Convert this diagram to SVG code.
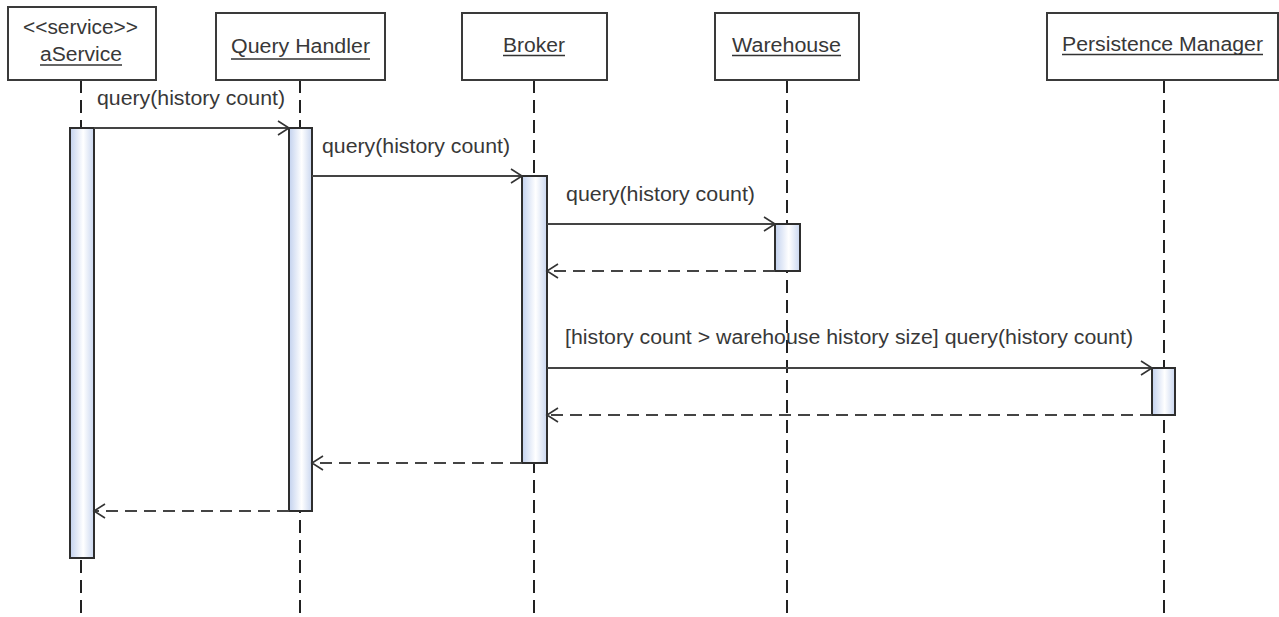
<svg xmlns="http://www.w3.org/2000/svg" width="1279" height="617" viewBox="0 0 1279 617">
<style>
.box{fill:#fff;stroke:#3a3a3a;stroke-width:2}
.life{stroke:#222;stroke-width:2;stroke-dasharray:13,7;fill:none}
.act{fill:url(#actg);stroke:#2e2e2e;stroke-width:2}
.t{font-family:"Liberation Sans",Arial,sans-serif;font-size:20px;fill:#383838}
.ul{stroke:#333;stroke-width:1.5}
.msg{stroke:#444;stroke-width:2;fill:none;marker-end:url(#arr)}
.ret{stroke:#444;stroke-width:2;fill:none;stroke-dasharray:12,7;marker-end:url(#arr)}
</style>
<defs>
<linearGradient id="actg" x1="0" y1="0" x2="1" y2="0">
<stop offset="0" stop-color="#c2d1ee"/>
<stop offset="0.55" stop-color="#ffffff"/>
<stop offset="1" stop-color="#c9d6ef"/>
</linearGradient>
<marker id="arr" markerWidth="14" markerHeight="16" refX="12" refY="8" orient="auto" markerUnits="userSpaceOnUse">
<path d="M1,1 L12,8 L1,15" fill="none" stroke="#333" stroke-width="1.6"/>
</marker>
</defs>

<g id="lifelines">
<line class="life" x1="81" y1="80" x2="81" y2="617"/>
<line class="life" x1="300" y1="80" x2="300" y2="617"/>
<line class="life" x1="534" y1="80" x2="534" y2="617"/>
<line class="life" x1="787" y1="80" x2="787" y2="617"/>
<line class="life" x1="1164" y1="80" x2="1164" y2="617"/>
</g>

<g id="aService">
<rect class="box" x="8" y="7" width="148" height="73"/>
<text class="t" x="80.5" y="34" text-anchor="middle" textLength="115" lengthAdjust="spacingAndGlyphs">&lt;&lt;service&gt;&gt;</text>
<text class="t" x="81" y="61" text-anchor="middle" textLength="82" lengthAdjust="spacingAndGlyphs">aService</text>
<line class="ul" x1="40" y1="65" x2="122" y2="65"/>
<rect class="act" x="70" y="128" width="24" height="430"/>
</g>

<g id="queryHandler">
<rect class="box" x="216" y="13" width="169" height="67"/>
<text class="t" x="300.5" y="53" text-anchor="middle" textLength="139" lengthAdjust="spacingAndGlyphs">Query Handler</text>
<line class="ul" x1="231" y1="59" x2="370" y2="59"/>
<rect class="act" x="289" y="128" width="23" height="383"/>
</g>

<g id="broker">
<rect class="box" x="462" y="13" width="145" height="67"/>
<text class="t" x="534" y="52" text-anchor="middle" textLength="62" lengthAdjust="spacingAndGlyphs">Broker</text>
<line class="ul" x1="503" y1="55.5" x2="565" y2="55.5"/>
<rect class="act" x="522" y="176" width="25" height="287"/>
</g>

<g id="warehouse">
<rect class="box" x="715" y="13" width="144" height="67"/>
<text class="t" x="786.5" y="52" text-anchor="middle" textLength="109" lengthAdjust="spacingAndGlyphs">Warehouse</text>
<line class="ul" x1="732" y1="55.5" x2="841" y2="55.5"/>
<rect class="act" x="775" y="224" width="25" height="47"/>
</g>

<g id="persistenceManager">
<rect class="box" x="1047" y="13" width="231" height="67"/>
<text class="t" x="1162.5" y="51" text-anchor="middle" textLength="201" lengthAdjust="spacingAndGlyphs">Persistence Manager</text>
<line class="ul" x1="1062" y1="54.5" x2="1263" y2="54.5"/>
<rect class="act" x="1152" y="368" width="23" height="47"/>
</g>

<g id="connectors">
<line class="msg" x1="94" y1="128" x2="289" y2="128"/>
<line class="msg" x1="312" y1="176" x2="522" y2="176"/>
<line class="msg" x1="547" y1="224" x2="775" y2="224"/>
<line class="ret" x1="775" y1="271" x2="547" y2="271"/>
<line class="msg" x1="547" y1="368" x2="1152" y2="368"/>
<line class="ret" x1="1152" y1="415" x2="547" y2="415"/>
<line class="ret" x1="522" y1="463" x2="312" y2="463"/>
<line class="ret" x1="289" y1="511" x2="94" y2="511"/>
<text class="t" x="97" y="105" textLength="188" lengthAdjust="spacingAndGlyphs">query(history count)</text>
<text class="t" x="322" y="153" textLength="188" lengthAdjust="spacingAndGlyphs">query(history count)</text>
<text class="t" x="566" y="201" textLength="189" lengthAdjust="spacingAndGlyphs">query(history count)</text>
<text class="t" x="565" y="344" textLength="568" lengthAdjust="spacingAndGlyphs">[history count &gt; warehouse history size] query(history count)</text>
</g>
</svg>
